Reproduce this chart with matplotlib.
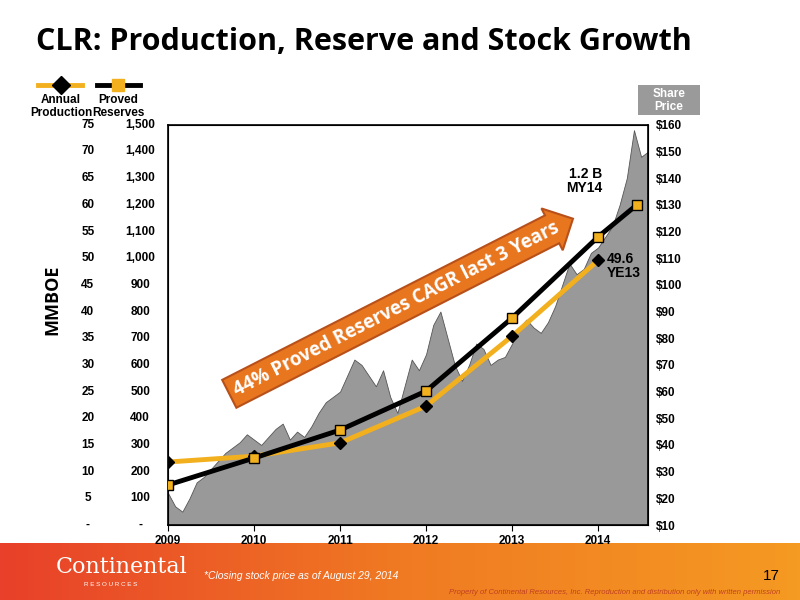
import numpy as np
import matplotlib.pyplot as plt
from matplotlib.lines import Line2D
from matplotlib.patches import FancyBboxPatch
from matplotlib.colors import LinearSegmentedColormap

# data
years = [2009, 2010, 2011, 2012, 2013, 2014]
production = [11.8, 12.9, 15.4, 22.3, 35.4, 49.6]
reserves = [150, 251, 356, 502, 776, 1080, 1200]
reserve_x = [2009, 2010, 2011, 2012, 2013, 2014, 2014.45]
# monthly closing share price, Jan 2009 - Aug 2014
price = [22, 17, 15, 20, 26, 28, 31, 34, 37, 39, 41, 44,
         42, 40, 43, 46, 48, 42, 45, 43, 47, 52, 56, 58,
         60, 66, 72, 70, 66, 62, 68, 58, 52, 62, 72, 68,
         74, 85, 90, 80, 70, 64, 70, 78, 76, 70, 72, 73,
         78, 84, 87, 84, 82, 86, 92, 100, 108, 104, 106, 112,
         114, 118, 122, 130, 140, 158, 148, 150]
price_x = [2009 + i / 12 for i in range(len(price))]

prod_ticks = list(range(0, 80, 5))
res_ticks = list(range(0, 1600, 100))
price_ticks = list(range(10, 170, 10))

fig = plt.figure(figsize=(8, 6), dpi=100)
plt.rcParams['font.family'] = ['Liberation Sans', 'DejaVu Sans']

# footer band
bg = fig.add_axes([0, 0, 1, 0.095])
grad = np.linspace(0, 1, 256).reshape(1, -1)
cm = LinearSegmentedColormap.from_list('f', ['#E8402A', '#F07A22', '#F59A22'])
bg.imshow(grad, aspect='auto', cmap=cm, extent=[0, 1, 0, 1])
bg.set_axis_off()

ax = fig.add_axes([0.21, 0.125, 0.6, 0.667])
ax2 = ax.twinx()
ax.set_zorder(ax2.get_zorder() + 1)
ax.patch.set_visible(False)

ax2.fill_between(price_x, 0, price, color='#999999', edgecolor='#555555', lw=0.6)
ax2.set_ylim(10, 160)
ax2.set_yticks(price_ticks)
ax2.set_yticklabels(['$%d' % v for v in price_ticks], fontsize=8.5, fontweight='bold')
ax2.tick_params(length=0, pad=6)

ax.plot(years, production, color='#F2B01E', lw=3.5, marker='D', ms=6,
        markerfacecolor='black', markeredgecolor='black', zorder=3)
ax.plot(reserve_x, [r / 20 for r in reserves], color='black', lw=3.5, marker='s', ms=7,
        markerfacecolor='#F2B01E', markeredgecolor='black', zorder=4)

ax.set_xlim(2009, 2014.58)
ax.set_ylim(0, 75)
ax.set_xticks(years)
ax.set_xticklabels([str(y) for y in years], fontsize=8.5, fontweight='bold')
ax.set_yticks(prod_ticks)
ax.set_yticklabels([])
ax.tick_params(axis='y', length=0)
ax.tick_params(axis='x', length=4)
for s in ax.spines.values():
    s.set_linewidth(1.2)
tr = ax.get_yaxis_transform()
for p, r in zip(prod_ticks, res_ticks):
    ax.text(-0.167, p, '-' if p == 0 else str(p), transform=tr, ha='center', va='center',
            fontsize=8.5, fontweight='bold')
    ax.text(-0.058, p, '-' if r == 0 else f'{r:,}', transform=tr, ha='center', va='center',
            fontsize=8.5, fontweight='bold')

ax.text(2014.05, 64.5, '1.2 B\nMY14', ha='right', va='center', fontsize=10,
        fontweight='bold', linespacing=1.0)
ax.text(2014.1, 48.5, '49.6\nYE13', ha='left', va='center', fontsize=10,
        fontweight='bold', linespacing=1.0)
ax.text(2011.65, 40.5, '44% Proved Reserves CAGR last 3 Years', rotation=27,
        ha='center', va='center', fontsize=13.5, fontweight='bold', color='white',
        family=['Open Sans', 'DejaVu Sans'], zorder=6,
        bbox=dict(boxstyle='rarrow,pad=0.3', fc='#E8761F', ec='#B8501A', lw=1.5))

# title and labels
fig.text(0.045, 0.93, 'CLR: Production, Reserve and Stock Growth', fontsize=22,
         fontweight='bold', family=['Open Sans', 'DejaVu Sans'], va='center')
fig.text(0.065, 0.5, 'MMBOE', rotation=90, fontsize=13, fontweight='bold',
         ha='center', va='center', family=['Open Sans', 'DejaVu Sans'])

# legend
fig.add_artist(Line2D([38 / 800, 82 / 800], [0.858, 0.858], color='#F2B01E', lw=3.5))
fig.add_artist(Line2D([61 / 800], [0.858], marker='D', ms=9, color='black'))
fig.add_artist(Line2D([97 / 800, 140 / 800], [0.858, 0.858], color='black', lw=3.5))
fig.add_artist(Line2D([118 / 800], [0.858], marker='s', ms=9, color='#F2B01E'))
fig.text(61 / 800, 0.822, 'Annual\nProduction', ha='center', va='center', fontsize=8.5,
         fontweight='bold', linespacing=1.1)
fig.text(118 / 800, 0.822, 'Proved\nReserves', ha='center', va='center', fontsize=8.5,
         fontweight='bold', linespacing=1.1)
fig.add_artist(FancyBboxPatch((638 / 800, 0.808), 62 / 800, 0.05, boxstyle='square,pad=0',
                              fc='#9A9A9A', ec='none', transform=fig.transFigure))
fig.text(669 / 800, 0.833, 'Share\nPrice', ha='center', va='center', fontsize=8.5,
         fontweight='bold', color='white', linespacing=1.1)

# footer text
fig.text(0.07, 0.055, 'Continental', fontsize=16, color='white', family='DejaVu Serif',
         va='center')
fig.text(0.105, 0.025, 'R E S O U R C E S', fontsize=4.5, color='white', va='center')
fig.text(0.255, 0.04, '*Closing stock price as of August 29, 2014', fontsize=7.5,
         style='italic', color='white', va='center')
fig.text(0.975, 0.04, '17', fontsize=11, ha='right', va='center')
fig.text(0.975, 0.006, 'Property of Continental Resources, Inc. Reproduction and distribution only with written permission',
         fontsize=5.5, style='italic', color='#C04020', ha='right', va='bottom')

fig.savefig('out.png', dpi=100)
